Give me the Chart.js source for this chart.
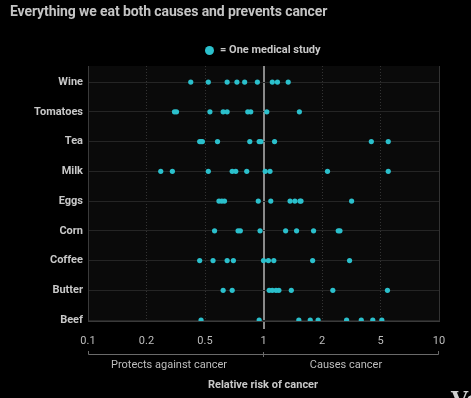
<!DOCTYPE html>
<html>
<head>
<meta charset="utf-8">
<script src="https://cdn.jsdelivr.net/npm/chart.js@4"></script>
<style>
  html, body { margin: 0; padding: 0; background: #000; }
  body { width: 471px; height: 398px; position: relative; overflow: hidden; font-family: Roboto, "Liberation Sans", sans-serif; }
  #wrap { position: absolute; left: 0; top: 0; width: 471px; height: 398px; }
  .txt { position: absolute; white-space: nowrap; line-height: 14px; }
  #title { left: 10px; top: 4px; font-size: 14px; font-weight: bold; color: #c4c4c4; letter-spacing: -0.1px; }
  #legendDot { position: absolute; left: 205px; top: 46px; width: 9px; height: 9px; border-radius: 50%; background: #2bc0cc; }
  #legendTxt { left: 220px; top: 43px; font-size: 11px; font-weight: bold; color: #c8c8c8; }
  .sub { top: 358px; font-size: 11px; color: #bdbdbd; transform: translateX(-50%); }
  #axisTitle { left: 263px; top: 378px; font-size: 11px; font-weight: bold; color: #c8c8c8; transform: translateX(-50%); }
  #logo { left: 451px; top: 388px; font-family: "DejaVu Serif", "Liberation Serif", serif; font-size: 22px; font-weight: bold; color: #cfcfcf; line-height: 22px; }
</style>
</head>
<body>
<div id="wrap"><canvas id="chart"></canvas></div>
<div class="txt" id="title">Everything we eat both causes and prevents cancer</div>
<div id="legendDot"></div>
<div class="txt" id="legendTxt">= One medical study</div>
<div class="txt sub" style="left:169px">Protects against cancer</div>
<div class="txt sub" style="left:346px">Causes cancer</div>
<div class="txt" id="axisTitle">Relative risk of cancer</div>
<div class="txt" id="logo">Vox</div>
<script>
// foods, top row first
var foods = ["Wine", "Tomatoes", "Tea", "Milk", "Eggs", "Corn", "Coffee", "Butter", "Beef"];
var tickValues = [0.1, 0.2, 0.5, 1, 2, 5, 10];

// relative risk reported by each study
var wine = [0.40, 0.52, 0.65, 0.73, 0.80, 0.93, 1.11, 1.18, 1.34];
var tomatoes = [0.31, 0.32, 0.53, 0.62, 0.65, 0.83, 0.86, 1.04, 1.53];
var tea = [0.46, 0.47, 0.48, 0.58, 0.85, 0.95, 0.97, 1.14, 4.33, 5.48];
var milk = [0.25, 0.30, 0.52, 0.69, 0.72, 0.82, 1.02, 1.08, 2.18, 5.48];
var eggs = [0.59, 0.61, 0.63, 0.94, 1.09, 1.37, 1.45, 1.54, 1.56, 3.18];
var corn = [0.56, 0.74, 0.76, 0.96, 1.30, 1.48, 1.81, 2.58, 2.65];
var coffee = [0.46, 0.55, 0.65, 0.70, 1.00, 1.06, 1.13, 1.79, 3.08];
var butter = [0.62, 0.69, 1.07, 1.11, 1.16, 1.20, 1.39, 2.37, 5.43];
var beef = [0.47, 0.95, 1.52, 1.74, 1.91, 2.94, 3.70, 4.43, 5.08];

var studies = [wine, tomatoes, tea, milk, eggs, corn, coffee, butter, beef];

// the axis puts its ticks evenly apart, log scale between each pair
function toAxis(v) {
  for (var i = 0; i < tickValues.length - 1; i++) {
    var a = tickValues[i], b = tickValues[i + 1];
    if (v <= b || i == tickValues.length - 2) {
      return i + Math.log(v / a) / Math.log(b / a);
    }
  }
}

var points = [];
studies.forEach(function (list, row) {
  list.forEach(function (v) {
    points.push({ x: toAxis(v), y: foods.length - 1 - row });
  });
});

var plotBg = {
  id: "plotBg",
  beforeDraw: function (chart) {
    var a = chart.chartArea, ctx = chart.ctx;
    ctx.save();
    ctx.fillStyle = "#0a0a0a";
    ctx.fillRect(a.left, a.top, a.right - a.left, a.bottom - a.top);
    ctx.restore();
  },
  afterDraw: function (chart) {
    // bracket under the tick labels
    var x = chart.scales.x, ctx = chart.ctx;
    var y = chart.chartArea.bottom + 33;
    var x0 = x.getPixelForValue(0), x1 = x.getPixelForValue(3), x2 = x.getPixelForValue(6);
    ctx.save();
    ctx.strokeStyle = "#6a6a6a";
    ctx.lineWidth = 1;
    ctx.beginPath();
    ctx.moveTo(x0 + 0.5, y - 3);
    ctx.lineTo(x0 + 0.5, y + 0.5);
    ctx.lineTo(x2 - 0.5, y + 0.5);
    ctx.lineTo(x2 - 0.5, y - 3);
    ctx.moveTo(x1, y - 2);
    ctx.lineTo(x1, y + 3);
    ctx.stroke();
    ctx.restore();
  }
};

new Chart(document.getElementById("chart"), {
  type: "scatter",
  data: {
    datasets: [{
      data: points,
      backgroundColor: "#2bc0cc",
      borderWidth: 0,
      pointRadius: 2.6
    }]
  },
  options: {
    responsive: true,
    maintainAspectRatio: false,
    animation: false,
    layout: { padding: { left: 0, right: 32, top: 66, bottom: 0 } },
    plugins: { legend: { display: false }, tooltip: { enabled: false } },
    scales: {
      x: {
        type: "linear",
        min: 0,
        max: 6,
        afterFit: function (s) { s.height = 77; },
        afterBuildTicks: function (s) {
          s.ticks = tickValues.map(function (v, i) { return { value: i }; });
        },
        ticks: {
          color: "#bdbdbd",
          font: { family: "Roboto", size: 11 },
          padding: 6,
          maxRotation: 0,
          callback: function (v) { return String(tickValues[v]); }
        },
        grid: {
          color: function (c) { return c.index == 3 ? "#8a8a8a" : "#333"; },
          lineWidth: function (c) { return c.index == 3 ? 2 : 1; },
          tickColor: function (c) { return c.index == 3 ? "#8a8a8a" : "rgba(0,0,0,0)"; },
          tickLength: 8
        },
        border: {
          color: "#3a3a3a",
          dash: function (c) { return (c.index == 0 || c.index == 3 || c.index == 6) ? [] : [1, 2]; }
        }
      },
      y: {
        type: "linear",
        min: -0.03,
        max: 8.54,
        afterFit: function (s) { s.width = 88; },
        afterBuildTicks: function (s) {
          s.ticks = foods.map(function (f, i) { return { value: i }; });
        },
        ticks: {
          color: "#c8c8c8",
          font: { family: "Roboto", size: 11, weight: "bold" },
          padding: 5,
          callback: function (v) { return foods[foods.length - 1 - v]; }
        },
        grid: { color: "#252525", drawTicks: false },
        border: { color: "#3a3a3a" }
      }
    }
  },
  plugins: [plotBg]
});
</script>
</body>
</html>
